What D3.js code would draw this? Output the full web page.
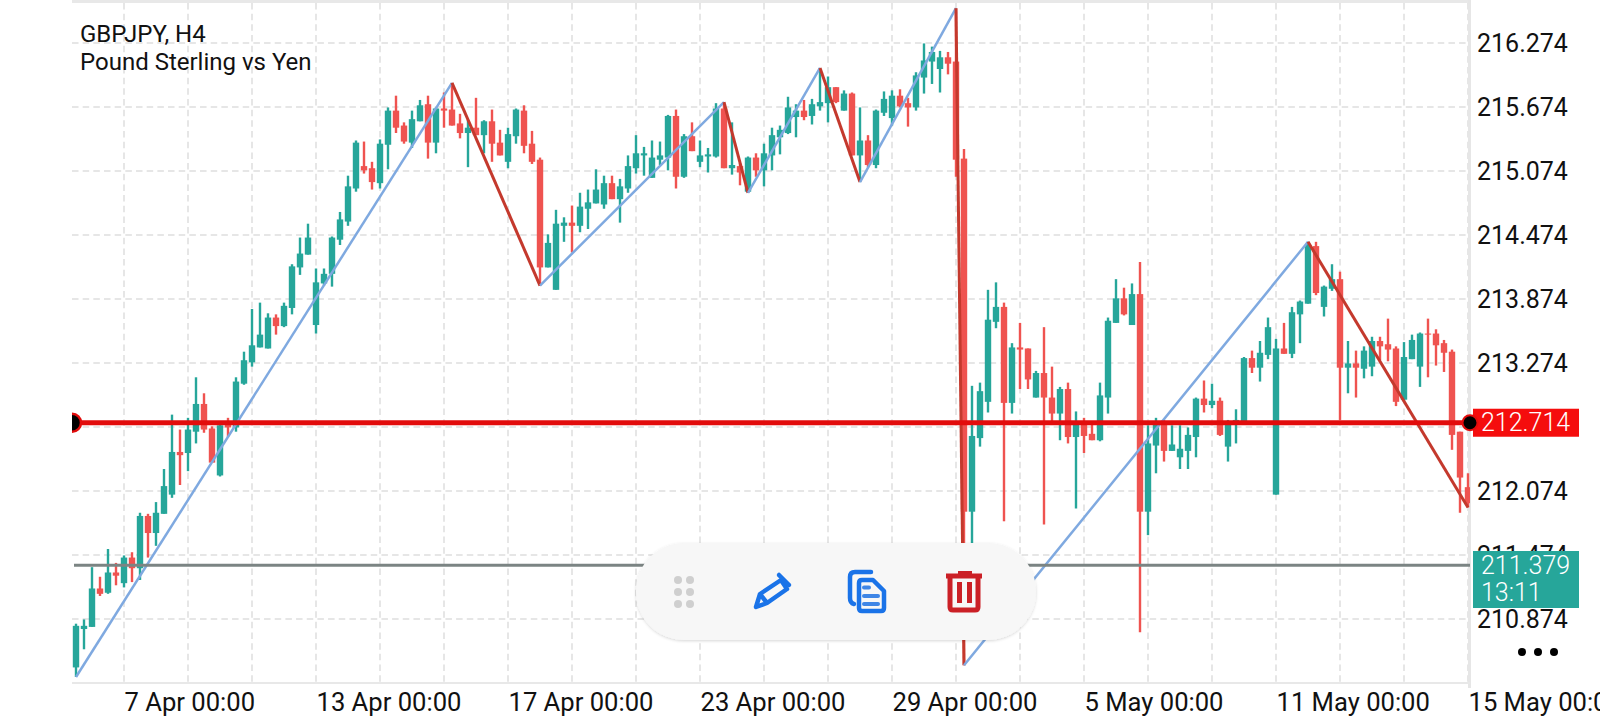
<!DOCTYPE html>
<html>
<head>
<meta charset="utf-8">
<script src="https://cdn.jsdelivr.net/npm/d3@7"></script>
<style>
  html, body { margin: 0; padding: 0; background: #fff; overflow: hidden; }
  svg { display: block; font-family: Roboto, sans-serif; }
</style>
</head>
<body>
<div id="chart"></div>
<script>
// GBPJPY H4 bars, one value per bar
const opens = [
  210.42,210.78,210.80,211.16,211.12,211.31,211.21,211.45,211.35,211.84,
  211.68,211.86,212.04,212.44,212.43,212.63,212.89,212.66,212.22,212.71,
  212.67,213.08,213.28,213.42,213.41,213.70,213.62,213.79,214.17,214.29,
  213.63,214.02,214.11,214.43,214.60,214.91,215.12,215.10,214.96,215.32,
  215.64,215.50,215.34,215.54,215.70,215.34,215.66,215.65,215.52,215.43,
  215.48,215.41,215.54,215.34,215.16,215.40,215.64,215.33,215.18,214.17,
  213.96,214.56,214.59,214.56,214.72,214.77,214.76,214.96,214.81,214.91,
  215.10,215.22,215.01,215.18,215.20,215.59,215.02,215.40,215.16,215.21,
  215.21,215.66,215.10,215.12,214.88,215.20,215.08,215.22,215.39,215.43,
  215.58,215.64,215.59,215.68,215.71,215.86,215.64,215.80,215.22,215.36,
  215.13,215.62,215.57,215.78,215.71,215.67,215.95,216.10,216.03,216.14,
  216.10,215.19,211.88,212.57,212.91,213.66,213.80,212.90,213.42,213.41,
  212.95,213.18,212.95,212.80,213.03,212.58,212.73,212.61,212.55,212.95,
  213.65,213.88,213.63,213.92,211.88,212.50,212.71,212.45,212.39,212.45,
  212.58,212.94,212.88,212.92,212.49,212.70,212.71,213.32,213.23,213.35,
  212.04,213.41,213.36,213.73,213.83,214.37,213.80,213.97,214.06,213.23,
  213.27,213.22,213.24,213.48,213.45,213.41,212.93,213.31,213.24,213.55,
  213.55,213.46,213.38,212.63,212.11
]
const highs = [
  210.83,210.87,211.36,211.27,211.53,211.40,211.47,211.50,211.87,211.86,
  211.97,212.28,212.79,212.65,212.76,213.14,212.99,212.68,212.71,212.76,
  213.14,213.38,213.78,213.84,213.74,213.73,213.84,214.20,214.45,214.58,
  214.16,214.16,214.46,214.69,215.03,215.36,215.35,215.16,215.37,215.67,
  215.78,215.53,215.64,215.74,215.78,215.67,215.81,215.90,215.61,215.55,
  215.76,215.55,215.65,215.46,215.48,215.66,215.69,215.45,215.20,214.48,
  214.71,214.64,214.75,214.87,214.90,215.09,215.03,215.03,215.00,215.22,
  215.41,215.30,215.36,215.35,215.60,215.65,215.42,215.53,215.36,215.29,
  215.71,215.72,215.53,215.15,215.21,215.24,215.33,215.48,215.50,215.77,
  215.70,215.74,215.75,216.04,215.96,215.86,215.83,215.81,215.67,215.41,
  215.65,215.82,215.83,215.84,215.76,216.00,216.27,216.24,216.20,216.19,
  216.60,215.28,213.06,213.09,213.96,214.03,213.84,213.46,213.65,213.41,
  213.20,213.61,213.24,213.05,213.09,212.82,212.76,212.73,213.09,213.70,
  214.06,213.98,214.02,214.22,212.69,212.76,212.74,212.69,212.69,212.67,
  212.95,213.11,213.08,212.95,212.74,212.84,213.33,213.39,213.48,213.70,
  213.50,213.65,213.80,213.86,214.41,214.41,214.00,214.20,214.13,213.48,
  213.39,213.43,213.52,213.52,213.69,213.43,213.47,213.54,213.56,213.69,
  213.59,213.49,213.40,212.63,212.24
]
const lows = [
  210.33,210.59,210.80,211.09,211.11,211.19,211.17,211.22,211.24,211.45,
  211.56,211.86,212.01,212.13,212.26,212.52,212.62,212.34,212.21,212.58,
  212.63,213.07,213.24,213.42,213.41,213.54,213.61,213.73,214.10,214.29,
  213.55,214.00,213.99,214.38,214.56,214.88,215.05,214.90,214.91,215.09,
  215.43,215.33,215.29,215.54,215.19,215.24,215.48,215.50,215.38,215.11,
  215.41,215.24,215.16,215.22,215.10,215.33,215.24,215.14,214.00,214.17,
  213.96,214.41,214.31,214.50,214.53,214.77,214.72,214.81,214.59,214.87,
  215.05,215.03,215.01,215.13,215.08,214.91,215.01,215.26,215.11,215.06,
  215.20,215.10,215.04,214.94,214.87,215.02,214.93,215.08,215.23,215.42,
  215.39,215.55,215.51,215.64,215.53,215.71,215.64,215.22,214.97,215.11,
  215.10,215.59,215.50,215.67,215.49,215.64,215.80,215.89,215.81,215.98,
  215.02,210.44,211.43,212.49,212.81,213.60,211.79,212.80,213.03,213.03,
  212.95,211.76,212.72,212.55,212.52,211.91,212.43,212.55,212.54,212.80,
  213.65,213.72,213.63,210.75,211.66,212.24,212.35,212.45,212.28,212.28,
  212.39,212.81,212.85,212.59,212.35,212.52,212.71,213.18,213.10,213.31,
  212.04,213.36,213.32,213.46,213.83,213.91,213.71,213.95,212.74,212.99,
  212.95,213.13,213.15,213.30,213.29,212.87,212.91,213.31,213.05,213.14,
  213.25,213.19,212.46,211.87,211.92
]
const closes = [
  210.81,210.81,211.16,211.11,211.31,211.28,211.45,211.35,211.84,211.68,
  211.87,212.12,212.44,212.41,212.65,212.89,212.65,212.34,212.69,212.67,
  213.10,213.30,213.44,213.54,213.70,213.62,213.81,214.18,214.30,214.45,
  214.03,214.11,214.45,214.62,214.93,215.34,215.08,214.97,215.33,215.64,
  215.48,215.35,215.56,215.69,215.34,215.66,215.64,215.50,215.43,215.48,
  215.41,215.54,215.33,215.22,215.42,215.65,215.31,215.16,214.17,214.40,
  214.58,214.59,214.56,214.74,214.78,214.90,214.96,214.81,214.93,215.12,
  215.24,215.24,215.20,215.22,215.59,215.02,215.40,215.26,215.22,215.23,
  215.66,215.10,215.13,215.06,215.20,215.08,215.24,215.41,215.46,215.67,
  215.64,215.58,215.70,215.72,215.86,215.72,215.80,215.22,215.36,215.13,
  215.64,215.75,215.78,215.68,215.67,215.97,216.11,216.19,216.14,216.08,
  215.18,211.88,212.59,213.01,213.68,213.80,212.90,213.42,213.40,213.12,
  213.18,212.95,212.80,213.03,212.58,212.73,212.59,212.55,212.97,213.67,
  213.88,213.73,213.92,211.88,212.52,212.71,212.45,212.51,212.47,212.60,
  212.94,212.88,212.92,212.60,212.73,212.74,213.32,213.23,213.37,213.61,
  213.41,213.36,213.75,213.85,214.38,213.93,213.99,214.06,213.23,213.27,
  213.23,213.39,213.48,213.43,213.40,212.91,213.33,213.49,213.55,213.54,
  213.44,213.37,212.60,212.20,211.96
]

// Zigzag pivots
const pivotBars = [0, 47, 58, 81, 84, 93, 98, 110, 111, 154, 174]
const pivotPrices = [210.33, 215.90, 214.00, 215.72, 214.87, 216.04, 214.97, 216.60, 210.44, 214.41, 211.92]

// Axis ticks
const priceTicks = [216.274, 215.674, 215.074, 214.474, 213.874, 213.274, 212.674, 212.074, 211.474, 210.874]
const gridBars = [6, 14, 22, 30, 38, 46, 54, 62, 70, 78, 86, 94, 102, 110, 118, 126, 134, 142, 150, 158, 166, 174]
const dateBars = [6, 30, 54, 78, 102, 126, 150, 174]
const dateLabels = ['7 Apr 00:00', '13 Apr 00:00', '17 Apr 00:00', '23 Apr 00:00', '29 Apr 00:00', '5 May 00:00', '11 May 00:00', '15 May 00:00']

// Horizontal levels
const alertPrice = 212.714
const bidPrice = 211.379
const bidTimer = '13:11'

const UP = '#26a69a'
const DOWN = '#ef5350'
const GRID = '#e6e6e6'
const ZIG_UP = '#7fa9e0'
const ZIG_DOWN = '#c4392d'

const W = 1600
const H = 720
const plot = { left: 72, right: 1470, top: 3, bottom: 683 }

const x = d3.scaleLinear().domain([0, 174]).range([76, 1468])
const y = d3.scaleLinear().domain([216.274, 210.874]).range([43, 619])

const svg = d3.select('#chart').append('svg').attr('width', W).attr('height', H)

svg.append('defs').append('clipPath').attr('id', 'plot-clip')
  .append('rect')
  .attr('x', plot.left).attr('y', plot.top)
  .attr('width', plot.right - plot.left).attr('height', plot.bottom - plot.top)

const shadow = svg.select('defs').append('filter')
  .attr('id', 'pill-shadow').attr('x', '-5%').attr('y', '-20%').attr('width', '110%').attr('height', '140%')
shadow.append('feDropShadow')
  .attr('dx', 0).attr('dy', 1).attr('stdDeviation', 1.5)
  .attr('flood-color', '#000').attr('flood-opacity', 0.16)

// Grid
const grid = svg.append('g').attr('stroke', GRID).attr('stroke-width', 2).attr('stroke-dasharray', '6.5,4.17')
grid.selectAll('.h')
  .data(priceTicks)
  .enter().append('line')
  .attr('x1', plot.left).attr('x2', plot.right)
  .attr('y1', d => y(d)).attr('y2', d => y(d))
grid.selectAll('.v')
  .data(gridBars)
  .enter().append('line')
  .attr('x1', d => x(d)).attr('x2', d => x(d))
  .attr('y1', plot.top).attr('y2', plot.bottom)

// Frame
svg.append('rect').attr('x', plot.left).attr('y', 0).attr('width', plot.right - plot.left).attr('height', 3).attr('fill', '#e8e8e8')
svg.append('rect').attr('x', 1468).attr('y', 0).attr('width', 3).attr('height', 688).attr('fill', '#e6e6e6')
svg.append('rect').attr('x', plot.left).attr('y', 682).attr('width', plot.right - plot.left).attr('height', 2).attr('fill', '#e8e8e8')

const g = svg.append('g').attr('clip-path', 'url(#plot-clip)')

// Candles
const bars = d3.range(opens.length)
const colorOf = i => (closes[i] >= opens[i] ? UP : DOWN)

g.selectAll('.wick')
  .data(bars)
  .enter().append('line')
  .attr('class', 'wick')
  .attr('x1', i => x(i)).attr('x2', i => x(i))
  .attr('y1', i => y(highs[i])).attr('y2', i => y(lows[i]))
  .attr('stroke', colorOf)
  .attr('stroke-width', 2.4)

g.selectAll('.body')
  .data(bars)
  .enter().append('rect')
  .attr('class', 'body')
  .attr('x', i => x(i) - 3.2)
  .attr('width', 6.4)
  .attr('y', i => y(Math.max(opens[i], closes[i])))
  .attr('height', i => Math.max(1, Math.abs(y(opens[i]) - y(closes[i]))))
  .attr('fill', colorOf)

// Zigzag
const zigLine = d3.line().x(d => x(d.bar)).y(d => y(d.price))
d3.pairs(pivotBars.map((bar, i) => ({ bar, price: pivotPrices[i] }))).forEach(seg => {
  const rising = seg[1].price > seg[0].price
  g.append('path')
    .attr('d', zigLine(seg))
    .attr('fill', 'none')
    .attr('stroke', rising ? ZIG_UP : ZIG_DOWN)
    .attr('stroke-width', rising ? 2.5 : 3)
})

// Levels
g.append('line')
  .attr('x1', plot.left + 2).attr('x2', plot.right)
  .attr('y1', y(bidPrice)).attr('y2', y(bidPrice))
  .attr('stroke', '#7b8483').attr('stroke-width', 3)
g.append('line')
  .attr('x1', plot.left).attr('x2', plot.right)
  .attr('y1', y(alertPrice)).attr('y2', y(alertPrice))
  .attr('stroke', '#e20c0c').attr('stroke-width', 5)
g.append('circle')
  .attr('cx', plot.left).attr('cy', y(alertPrice)).attr('r', 9)
  .attr('fill', '#000').attr('stroke', '#e20c0c').attr('stroke-width', 2.5)

// Price axis
const yAxis = svg.append('g')
  .attr('transform', `translate(1477,0)`)
  .call(d3.axisRight(y).tickValues(priceTicks).tickFormat(d3.format('.3f')).tickSize(0).tickPadding(0))
yAxis.select('.domain').remove()
yAxis.selectAll('text').attr('fill', '#111').attr('font-size', 25).attr('font-family', 'Roboto')

// Time axis
const xAxis = svg.append('g')
  .attr('transform', `translate(0,684)`)
  .call(d3.axisBottom(x).tickValues(dateBars).tickFormat((d, i) => dateLabels[i]).tickSize(0).tickPadding(0))
xAxis.select('.domain').remove()
xAxis.selectAll('text')
  .attr('text-anchor', 'start').attr('y', 9)
  .attr('fill', '#111').attr('font-size', 25.6).attr('font-family', 'Roboto')

// Price tags
svg.append('rect').attr('x', 1473).attr('y', y(alertPrice) - 14).attr('width', 106).attr('height', 28).attr('fill', '#f50d0d')
svg.append('text').attr('x', 1481).attr('y', 431).attr('fill', '#fff').attr('font-size', 25).attr('font-weight', 300).text(alertPrice.toFixed(3))
svg.append('circle')
  .attr('cx', 1470).attr('cy', y(alertPrice)).attr('r', 7.5)
  .attr('fill', '#000').attr('stroke', '#e20c0c').attr('stroke-width', 2)

svg.append('rect').attr('x', 1473).attr('y', 551).attr('width', 106).attr('height', 57).attr('fill', UP)
svg.append('text').attr('x', 1481).attr('y', 574).attr('fill', '#fff').attr('font-size', 25).attr('font-weight', 300).text(bidPrice.toFixed(3))
svg.append('text').attr('x', 1481).attr('y', 601).attr('fill', '#fff').attr('font-size', 25).attr('font-weight', 300).text(bidTimer)

// Overflow dots
svg.selectAll('.more')
  .data([1522, 1538, 1554])
  .enter().append('circle')
  .attr('cx', d => d).attr('cy', 652).attr('r', 4).attr('fill', '#000')

// Title
svg.append('text').attr('x', 80).attr('y', 42).attr('fill', '#111').attr('font-size', 24).text('GBPJPY, H4')
svg.append('text').attr('x', 80).attr('y', 70).attr('fill', '#111').attr('font-size', 24).text('Pound Sterling vs Yen')

// Floating toolbar
const bar = svg.append('g')
bar.append('rect')
  .attr('x', 636).attr('y', 543).attr('width', 400).attr('height', 97).attr('rx', 48)
  .attr('fill', '#f7f7f7').attr('filter', 'url(#pill-shadow)')

bar.selectAll('.grip')
  .data(d3.cross([678, 690], [580, 592, 604]))
  .enter().append('circle')
  .attr('cx', d => d[0]).attr('cy', d => d[1]).attr('r', 4).attr('fill', '#cfcfcf')

const BLUE = '#1a73e8'
// pencil
bar.append('path')
  .attr('d', 'M756 607 L760 594 L781 580 L787 589 L767 603 Z M760 594 L767 603')
  .attr('fill', 'none').attr('stroke', BLUE).attr('stroke-width', 4.5).attr('stroke-linejoin', 'round')
bar.append('path')
  .attr('d', 'M779 575 L789 585')
  .attr('stroke', BLUE).attr('stroke-width', 4.5).attr('stroke-linecap', 'round')
// copy
bar.append('path')
  .attr('d', 'M871 572 L855 572 Q850 572 850 577 L850 598 Q850 603 854 604')
  .attr('fill', 'none').attr('stroke', BLUE).attr('stroke-width', 4.5).attr('stroke-linecap', 'round')
bar.append('path')
  .attr('d', 'M862 580 L873 580 L884 591 L884 608 Q884 611 881 611 L862 611 Q859 611 859 608 L859 583 Q859 580 862 580 Z')
  .attr('fill', 'none').attr('stroke', BLUE).attr('stroke-width', 4.5).attr('stroke-linejoin', 'round')
bar.selectAll('.doc-line')
  .data([[864, 869, 587.5], [864, 878, 596], [864, 878, 604]])
  .enter().append('line')
  .attr('x1', d => d[0]).attr('x2', d => d[1]).attr('y1', d => d[2]).attr('y2', d => d[2])
  .attr('stroke', '#3f86e6').attr('stroke-width', 4).attr('stroke-linecap', 'round')
// trash
const RED = '#cb2026'
bar.append('path').attr('d', 'M946 576 L982 576').attr('stroke', RED).attr('stroke-width', 5)
bar.append('path').attr('d', 'M958 573 L972 573').attr('stroke', RED).attr('stroke-width', 4)
bar.append('path')
  .attr('d', 'M950 577 L950 607 Q950 610 953 610 L975 610 Q978 610 978 607 L978 577')
  .attr('fill', 'none').attr('stroke', RED).attr('stroke-width', 5)
bar.append('rect').attr('x', 957).attr('y', 582).attr('width', 5).attr('height', 21).attr('fill', RED)
bar.append('rect').attr('x', 967).attr('y', 582).attr('width', 5).attr('height', 21).attr('fill', RED)
</script>
</body>
</html>
